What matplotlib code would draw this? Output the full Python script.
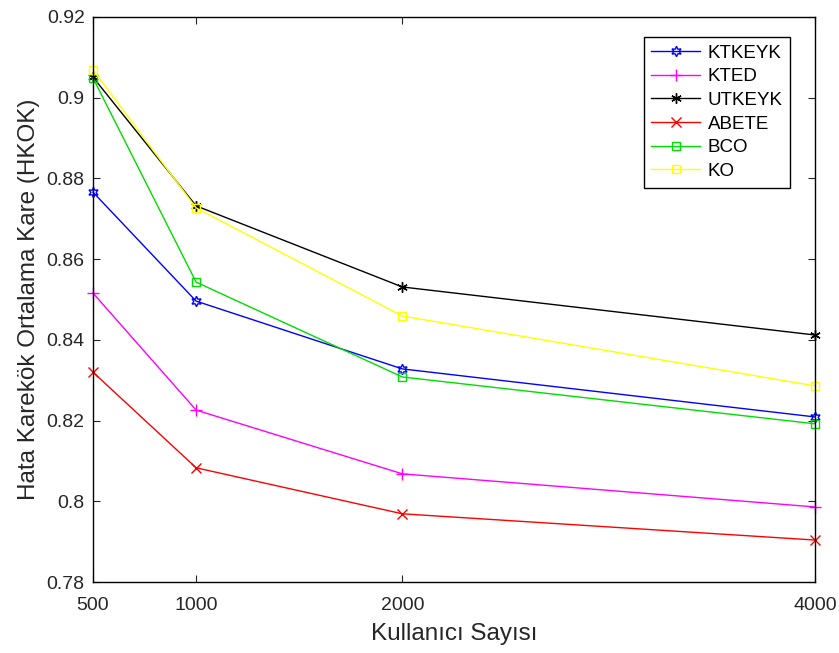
import matplotlib.pyplot as plt

plt.rcParams['font.family'] = ['Liberation Sans', 'DejaVu Sans']

users = [500, 1000, 2000, 4000]
ktkeyk = [0.8766, 0.8496, 0.8328, 0.8209]
kted = [0.8516, 0.8226, 0.8068, 0.7986]
utkeyk = [0.9051, 0.8732, 0.8531, 0.8412]
abete = [0.8320, 0.8083, 0.7969, 0.7904]
bco = [0.9049, 0.8543, 0.8308, 0.8192]
ko = [0.9069, 0.8727, 0.8459, 0.8286]

fig = plt.figure(figsize=(8.39, 6.53), dpi=100)
ax = fig.add_axes([0.1108, 0.1087, 0.8606, 0.8653])

series = [
    (ktkeyk, 'KTKEYK', '#0000ff', (6, 1, 0), 7.5),
    (kted, 'KTED', '#ff00ff', '+', 8),
    (utkeyk, 'UTKEYK', '#000000', (6, 2, 0), 7.5),
    (abete, 'ABETE', '#ff0000', 'x', 7),
    (bco, 'BCO', '#00dd00', 's', 6),
    (ko, 'KO', '#ffff00', 's', 6),
]
for vals, name, col, mk, ms in series:
    ax.plot(users, vals, color=col, marker=mk, markersize=ms, markerfacecolor='none',
            markeredgecolor=col, markeredgewidth=1.0, linewidth=1.0, label=name, clip_on=False)

ax.set_xlim(500, 4000)
ax.set_ylim(0.78, 0.92)
ax.set_xticks(users)
ax.set_xticklabels(['500', '1000', '2000', '4000'])
ax.set_yticks([0.78, 0.8, 0.82, 0.84, 0.86, 0.88, 0.9, 0.92])
ax.set_yticklabels(['0.78', '0.8', '0.82', '0.84', '0.86', '0.88', '0.9', '0.92'])
ax.tick_params(direction='in', length=5, labelsize=14, top=True, right=True, colors='#262626')
ax.tick_params(axis='x', pad=11)
ax.tick_params(axis='y', pad=6)
for s in ax.spines.values():
    s.set_linewidth(1.0)

ax.set_xlabel('Kullanıcı Sayısı', fontsize=17.5, color='#262626', labelpad=6)
ax.set_ylabel('Hata Karekök Ortalama Kare (HKOK)', fontsize=17.5, color='#262626', labelpad=5)

leg = ax.legend(loc='upper right', bbox_to_anchor=(0.9654, 0.9646), borderaxespad=0,
                fontsize=13.5, fancybox=False, edgecolor='black', framealpha=1,
                borderpad=0.4, labelspacing=0.35, handlelength=2.6, handletextpad=0.4)
leg.get_frame().set_linewidth(1.0)

fig.savefig('out.png', dpi=100)
